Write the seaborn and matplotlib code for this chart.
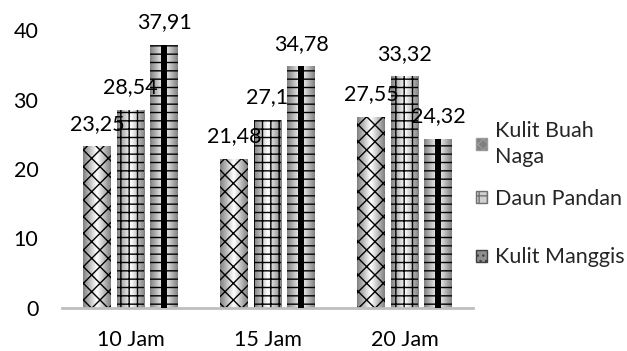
import matplotlib
matplotlib.use("Agg")
import matplotlib.pyplot as plt
import seaborn as sns
import pandas as pd
import numpy as np
from matplotlib.patches import Patch, Rectangle

categories = ["10 Jam", "15 Jam", "20 Jam"]
series = ["Kulit Buah Naga", "Daun Pandan", "Kulit Manggis"]
legend_labels = ["Kulit Buah\nNaga", "Daun Pandan", "Kulit Manggis"]
naga = [23.25, 21.48, 27.55]
pandan = [28.54, 27.1, 33.32]
manggis = [37.91, 34.78, 24.32]
value_labels = [["23,25", "21,48", "27,55"],
                ["28,54", "27,1", "33,32"],
                ["37,91", "34,78", "24,32"]]
yticks = [0, 10, 20, 30, 40]

rows = []
for s, vals in zip(series, [naga, pandan, manggis]):
    for c, v in zip(categories, vals):
        rows.append({"Waktu": c, "Nilai": v, "Sampel": s})
df = pd.DataFrame(rows)

sns.set_theme(style="white")
plt.rcParams["font.family"] = ["Lato", "DejaVu Sans"]
plt.rcParams["hatch.linewidth"] = 1.0

FS = 15.5
W, H = 627, 351
fig = plt.figure(figsize=(W / 100, H / 100), dpi=100)
ax = fig.add_axes([62 / W, (H - 308) / H, (473 - 62) / W, (308 - 30) / H])

sns.barplot(data=df, x="Waktu", y="Nilai", hue="Sampel", order=categories,
            hue_order=series, width=0.735, gap=0.18, ax=ax,
            palette=["#d8d8d8"] * 3, legend=False, saturation=1)

hatches = ["xx", "++", "--"]
grad = np.linspace(0, 1, 64)
grad = 1 - 0.5 * np.abs(grad - 0.5) * 2
grad = np.vstack([grad, grad])
bars = [p for p in ax.patches if isinstance(p, Rectangle) and p.get_height() > 0]
for i, p in enumerate(bars):
    si = i // 3
    x0, w, h = p.get_x(), p.get_width(), p.get_height()
    im = ax.imshow(grad, cmap="gray", vmin=0, vmax=1, aspect="auto",
                   extent=(x0, x0 + w, 0, h), zorder=1, interpolation="bilinear")
    im.set_clip_path(p)
    p.set_facecolor("none")
    p.set_edgecolor("black")
    p.set_linewidth(0)
    p.set_hatch(hatches[si])
    p.set_zorder(2)
    if si == 2:
        ax.add_patch(Rectangle((x0 + w * 0.4, 0), w * 0.2, h, facecolor="black",
                               edgecolor="none", zorder=3))

ax.set_xlim(-0.5, 2.5)
ax.set_ylim(0, 40)
ax.set_yticks(yticks)
ax.set_xlabel("")
ax.set_ylabel("")
ax.tick_params(axis="both", length=0, labelsize=FS, colors="black")
ax.tick_params(axis="y", pad=17)
ax.tick_params(axis="x", pad=16)
for sp in ["top", "right", "left"]:
    ax.spines[sp].set_visible(False)
ax.spines["bottom"].set_color("#bfbfbf")
ax.spines["bottom"].set_linewidth(2)

for si in range(3):
    for ci in range(3):
        p = bars[si * 3 + ci]
        ax.annotate(value_labels[si][ci], (p.get_x() + p.get_width() / 2, p.get_height()),
                    xytext=(0, 12), textcoords="offset points", ha="center",
                    va="baseline", fontsize=FS, color="black", zorder=5)

handles = [Patch(facecolor="#808080", edgecolor="#9a9a9a", hatch="xxx"),
           Patch(facecolor="#d0d0d0", edgecolor="#707070", hatch="++"),
           Patch(facecolor="#909090", edgecolor="#404040", hatch="...")]
common = dict(frameon=False, fontsize=FS, handlelength=0.5, handleheight=0.5,
              handletextpad=0.37, borderaxespad=0, borderpad=0)
leg1 = fig.legend(handles[:1], legend_labels[:1], loc="upper left",
                  bbox_to_anchor=(476 / W, 1 - 121 / H), **common)
for t in leg1.get_texts():
    t.set_linespacing(1.35)
fig.legend(handles[1:], legend_labels[1:], loc="center left",
           bbox_to_anchor=(476 / W, 1 - 228 / H), labelspacing=1.8, **common)

fig.savefig("out.png", dpi=100)
